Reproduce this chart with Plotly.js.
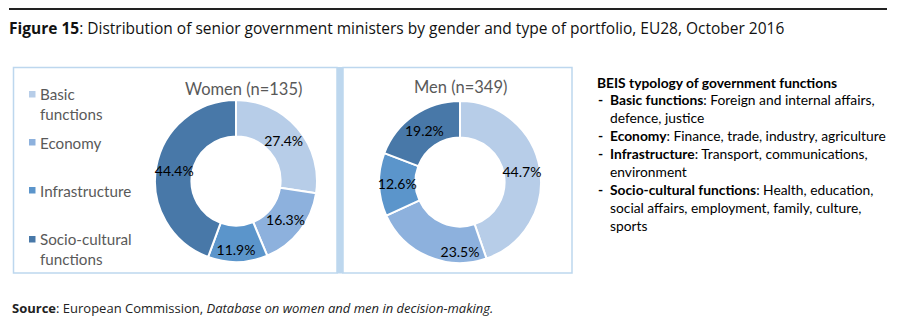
<!DOCTYPE html>
<html>
<head>
<meta charset="utf-8">
<script src="https://cdn.plot.ly/plotly-3.0.1.min.js"></script>
<style>html,body{margin:0;padding:0;background:#fff;}#chart{width:913px;height:326px;}</style>
</head>
<body>
<div id="chart"></div>
<script>
// ---- data ----
const categories = ['Basic functions', 'Economy', 'Infrastructure', 'Socio-cultural functions'];
const legendLabels = ['Basic<br>functions', 'Economy', 'Infrastructure', 'Socio-cultural<br>functions'];
const womenValues = [27.4, 16.3, 11.9, 44.4];
const menValues = [44.7, 23.5, 12.6, 19.2];
const womenTitle = 'Women (n=135)';
const menTitle = 'Men (n=349)';
const colors = ['#b7cde8', '#8db1dd', '#5b95cb', '#4878a8'];
const titleText = '<b>Figure 15</b>: Distribution of senior government ministers by gender and type of portfolio, EU28, October 2016';
const sourceText = '<b>Source</b>: European Commission, <i>Database on women and men in decision-making.</i>';
const typologyHeading = 'BEIS typology of government functions';
const typologyItems = [
  ['Basic functions', ['Foreign and internal affairs,', 'defence, justice']],
  ['Economy', ['Finance, trade, industry, agriculture']],
  ['Infrastructure', ['Transport, communications,', 'environment']],
  ['Socio-cultural functions', ['Health, education,', 'social affairs, employment, family, culture,', 'sports']]
];

// ---- layout helpers ----
const W = 913, H = 326;
const px = x => x / W;
const py = y => 1 - y / H;
const chartFont = 'Lato, "Open Sans", sans-serif';
const titleFont = '"Open Sans", Roboto, sans-serif';

function pieTrace(values, cx, cy, r) {
  return {
    type: 'pie',
    labels: categories,
    values: values,
    sort: false,
    direction: 'clockwise',
    rotation: 0,
    hole: 0.55,
    marker: {colors: colors, line: {color: '#ffffff', width: 2}},
    texttemplate: '%{value:.1f}%',
    textposition: 'inside',
    insidetextorientation: 'horizontal',
    textfont: {family: chartFont, size: 14, color: '#000000'},
    hoverinfo: 'label+value',
    showlegend: false,
    domain: {x: [px(cx - r), px(cx + r)], y: [py(cy + r), py(cy - r)]}
  };
}

const data = [
  pieTrace(womenValues, 236, 181, 81),
  pieTrace(menValues, 460, 182, 81)
];

const shapes = [
  {type: 'line', xref: 'paper', yref: 'paper', x0: px(9), x1: px(887), y0: py(9), y1: py(9), line: {color: '#222222', width: 2}},
  {type: 'rect', xref: 'paper', yref: 'paper', x0: px(13.5), x1: px(337), y0: py(67.5), y1: py(273), line: {color: '#bdd7ee', width: 1.5}},
  {type: 'rect', xref: 'paper', yref: 'paper', x0: px(337), x1: px(343), y0: py(67), y1: py(273.5), fillcolor: '#bdd7ee', line: {width: 0}},
  {type: 'rect', xref: 'paper', yref: 'paper', x0: px(343), x1: px(572), y0: py(67.5), y1: py(273), line: {color: '#bdd7ee', width: 1.5}}
];

const annotations = [];
function ann(text, x, y, opts) {
  annotations.push(Object.assign({
    xref: 'paper', yref: 'paper', x: px(x), y: py(y), text: text, showarrow: false,
    xanchor: 'left', yanchor: 'middle', align: 'left',
    font: {family: chartFont, size: 14, color: '#000'}
  }, opts || {}));
}

// title & source
ann(titleText, 7, 28, {font: {family: titleFont, size: 15.5, color: '#111'}});
ann(sourceText, 10, 308, {font: {family: titleFont, size: 13, color: '#222'}});

// pie titles
ann(womenTitle, 244, 89, {xanchor: 'center', font: {family: chartFont, size: 16.5, color: '#595959'}});
ann(menTitle, 460, 87, {xanchor: 'center', font: {family: chartFont, size: 16.5, color: '#595959'}});

// legend
const legendY = [94, 142, 190, 239];
categories.forEach((c, i) => {
  shapes.push({type: 'rect', xref: 'paper', yref: 'paper', x0: px(29), x1: px(35.5), y0: py(legendY[i] + 3.5), y1: py(legendY[i] - 3),
    fillcolor: colors[i], line: {width: 0}});
  ann(legendLabels[i], 38, legendY[i] - 10.5, {yanchor: 'top', font: {family: chartFont, size: 15.2, color: '#595959'}});
});

// typology text block
const lineY0 = 82, lineStep = 17.9;
let li = 0;
const tFont = {family: chartFont, size: 13.8, color: '#000'};
ann('<b>' + typologyHeading + '</b>', 595, lineY0, {font: tFont});
li = 1;
typologyItems.forEach(item => {
  ann('<b>-</b>', 596, lineY0 + li * lineStep, {font: tFont});
  item[1].forEach((t, k) => {
    const txt = k === 0 ? '<b>' + item[0] + '</b>: ' + t : t;
    ann(txt, 608, lineY0 + li * lineStep, {font: tFont});
    li++;
  });
});

const layout = {
  width: W, height: H,
  margin: {l: 0, r: 0, t: 0, b: 0},
  paper_bgcolor: '#ffffff',
  plot_bgcolor: '#ffffff',
  showlegend: false,
  shapes: shapes,
  annotations: annotations,
  uniformtext: {mode: 'show', minsize: 14}
};

Plotly.newPlot('chart', data, layout, {displayModeBar: false, staticPlot: true});
</script>
</body>
</html>
